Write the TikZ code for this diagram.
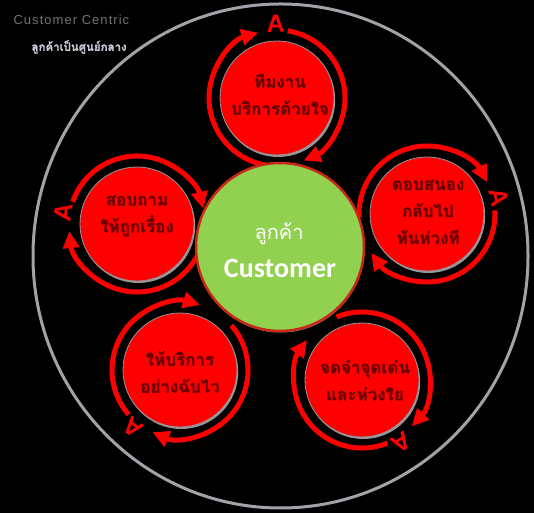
\documentclass[tikz,border=0pt]{standalone}
\usepackage{fontspec}
\setmainfont{Liberation Sans}
\newfontfamily\thaifont[Script=Thai]{Loma}
\newfontfamily\thaibold[Script=Thai,FakeBold=1.2]{Loma}
\newfontfamily\titlefont[LetterSpace=8]{Liberation Sans}
\newfontfamily\calib{Carlito}
\usetikzlibrary{arrows.meta,shadows}
\definecolor{ringgray}{RGB}{160,164,168}
\definecolor{bubred}{RGB}{255,0,0}
\definecolor{txtred}{RGB}{105,0,0}
\definecolor{lgreen}{RGB}{146,208,80}
\definecolor{gborder}{RGB}{200,40,20}
\definecolor{shgray}{RGB}{150,150,155}
\definecolor{titlegray}{RGB}{115,115,115}
\definecolor{subgray}{RGB}{195,200,208}
\tikzset{
 bubble/.style={circle, fill=bubred, draw=shgray, line width=0.8pt, minimum size=114pt, inner sep=0pt,
   drop shadow={shadow xshift=1.2pt, shadow yshift=-2pt, fill=shgray, opacity=1}},
 bubtext/.style={align=center, text=txtred, font=\thaibold\bfseries\fontsize{17}{27}\selectfont},
 cycarrow/.style={draw=bubred, line width=5pt, -{Triangle[length=17pt,width=16pt]}},
 aletter/.style={text=bubred, font=\bfseries\fontsize{25}{25}\selectfont, inner sep=0pt},
 outerring/.style={draw=ringgray, line width=3pt},
 hub/.style={circle, fill=lgreen, draw=gborder, line width=2.5pt, minimum size=168pt, inner sep=0pt,
   drop shadow={shadow xshift=0.5pt, shadow yshift=-1.5pt, fill=shgray, opacity=1}},
}
\newcommand\cyc[3]{%
 \draw[cycarrow] (#1) ++({#2+170}:#3) arc[start angle={#2+170}, end angle={#2+15}, radius=#3];
 \draw[cycarrow] (#1) ++({#2-10}:#3) arc[start angle={#2-10}, end angle={#2-158}, radius=#3];
 \node[aletter, rotate={#2-90}] (A#1) at ([shift={(#2:74)}]#1) {A};
}
\begin{document}
\begin{tikzpicture}[x=1pt,y=1pt]
\fill[black] (0,0) rectangle (534,513);
\useasboundingbox (0,0) rectangle (534,513);
\draw[outerring] (280.5,257) ellipse [x radius=247.5, y radius=252];
\node[anchor=west, text=titlegray, font=\titlefont\fontsize{13}{13}\selectfont] (title) at (10,493) {Customer Centric};
\node[anchor=west, text=subgray, font=\thaibold\bfseries\fontsize{11.5}{12}\selectfont] (subtitle) at (28,466) {ลูกค้าเป็นศูนย์กลาง};
% bubbles
\node[bubble] (T) at (277,415) {};
\node[bubble] (R) at (427,299) {};
\node[bubble] (L) at (137,289) {};
\node[bubble] (BL) at (180,143) {};
\node[bubble] (BR) at (362,133) {};
% cycles
\cyc{T}{91}{68}
\cyc{R}{13}{68}
\cyc{L}{171}{68}
\cyc{BL}{-129}{68}
\cyc{BR}{-58}{68}
% hub
\node[hub] (G) at (280,266) {};
\node[text=white, font=\thaifont\fontsize{20}{20}\selectfont] (gth) at (279,279) {ลูกค้า};
\node[text=white, font=\calib\bfseries\fontsize{28}{28}\selectfont] (gen) at (280,245) {Customer};
% texts
\node[bubtext] (tT) at (280,419) {ทีมงาน\\บริการด้วยใจ};
\node[bubtext] (tR) at (428,301) {ตอบสนอง\\กลับไป\\ทันท่วงที};
\node[bubtext] (tL) at (137,297) {สอบถาม\\ให้ถูกเรื่อง};
\node[bubtext] (tBL) at (180,141) {ให้บริการ\\อย่างฉับไว};
\node[bubtext] (tBR) at (365,133) {จดจำจุดเด่น\\และห่วงใย};
\end{tikzpicture}
\end{document}
